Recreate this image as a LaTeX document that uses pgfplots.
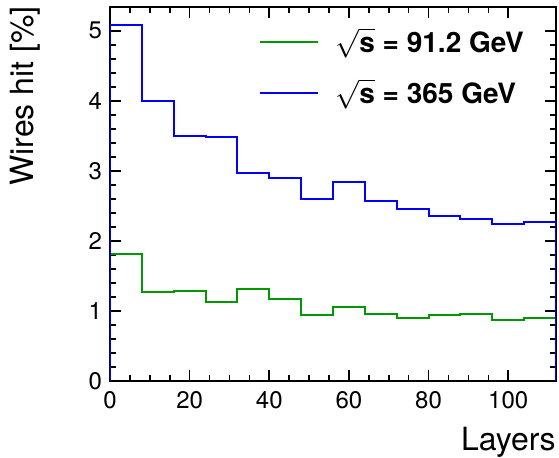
\documentclass[border=0pt]{standalone}
\usepackage{fontspec}
\setmainfont{TeX Gyre Heros}
\usepackage{pgfplots}
\pgfplotsset{compat=1.18}

\definecolor{rootgreen}{RGB}{0,153,0}
\definecolor{rootblue}{RGB}{0,0,255}

\begin{document}
\begin{tikzpicture}
\begin{axis}[
  scale only axis,
  width=223pt, height=187pt,
  xmin=0, xmax=112, ymin=0, ymax=5.34,
  xtick={0,20,...,100}, minor x tick num=3,
  ytick={0,1,...,5}, minor y tick num=4,
  tick align=inside, tick pos=both,
  major tick length=5.5pt, minor tick length=2.8pt,
  every tick/.style={black, line width=0.8pt},
  axis line style={line width=0.9pt},
  /pgf/number format/assume math mode=true,
  ticklabel style={font=\fontsize{12}{12}\selectfont},
  xticklabel style={yshift=-1.5pt},
  yticklabel style={xshift=-0.5pt},
  xlabel={Layers},
  xlabel style={at={(axis description cs:1,-0.122)}, anchor=north east, inner sep=0pt, font=\fontsize{16}{16}\selectfont},
  ylabel={Wires hit [\%]},
  ylabel style={at={(axis description cs:-0.155,1.003)}, anchor=south east, inner sep=0pt, font=\fontsize{16}{16}\selectfont},
  legend cell align=left,
  legend style={draw=none, fill=none, at={(axis description cs:0.334,0.945)}, anchor=north west,
    row sep=12pt, inner sep=0pt, nodes={inner sep=0pt, anchor=west},
    font=\fontsize{14}{14}\selectfont\bfseries},
  legend image code/.code={\draw[#1] (0pt,0pt) -- (29pt,0pt); \path (37pt,0pt);},
]
\addplot[const plot mark left, rootgreen, line width=1pt] coordinates {
  (0,0) (0,1.819) (8,1.276) (16,1.290) (24,1.133) (32,1.319) (40,1.167)
  (48,0.947) (56,1.057) (64,0.962) (72,0.900) (80,0.943) (88,0.957)
  (96,0.876) (104,0.900) (112,0.900) (112,0)
};
\addlegendentry{$\sqrt{\textbf{s}}$ = 91.2 GeV}
\addplot[const plot mark left, rootblue, line width=1pt] coordinates {
  (0,0) (0,5.076) (8,4.004) (16,3.500) (24,3.486) (32,2.967) (40,2.900)
  (48,2.596) (56,2.847) (64,2.571) (72,2.452) (80,2.362) (88,2.319)
  (96,2.238) (104,2.276) (112,2.276) (112,0)
};
\addlegendentry{$\sqrt{\textbf{s}}$ = 365 GeV}
\end{axis}
\path (-55pt,-35.5pt) rectangle (224.5pt,190.5pt);
\end{tikzpicture}
\end{document}
